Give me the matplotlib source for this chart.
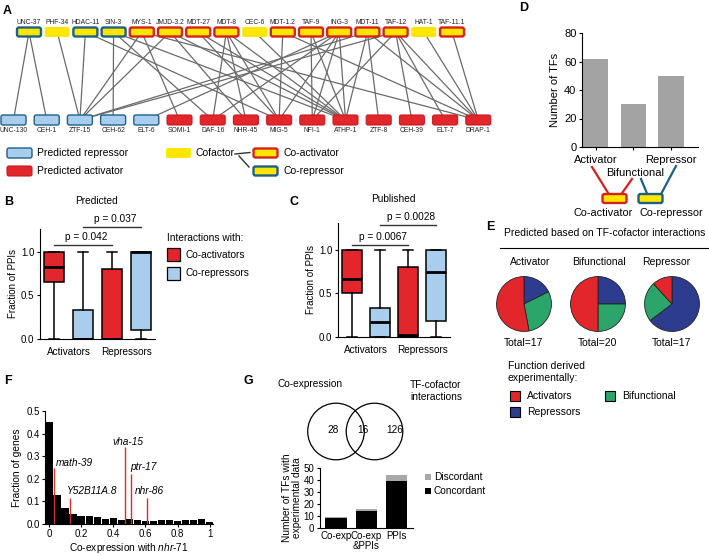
import numpy as np
import matplotlib
import matplotlib.pyplot as plt
from matplotlib.patches import FancyBboxPatch, Rectangle, Circle

matplotlib.rcParams['font.family'] = ['Liberation Sans', 'DejaVu Sans']
matplotlib.rcParams['mathtext.fontset'] = 'custom'
matplotlib.rcParams['mathtext.rm'] = 'Liberation Sans'
matplotlib.rcParams['mathtext.it'] = 'Liberation Sans:italic'
matplotlib.rcParams['axes.linewidth'] = 0.8
matplotlib.rcParams['xtick.major.width'] = 0.8
matplotlib.rcParams['ytick.major.width'] = 0.8
matplotlib.rcParams['xtick.major.size'] = 2.5
matplotlib.rcParams['ytick.major.size'] = 2.5

# ---------------------------------------------------------------- data
cofactors = ['UNC-37', 'PHF-34', 'HDAC-11', 'SIN-3', 'MYS-1', 'JMJD-3.2', 'MDT-27', 'MDT-8',
             'CEC-6', 'MDT-1.2', 'TAF-9', 'ING-3', 'MDT-11', 'TAF-12', 'HAT-1', 'TAF-11.1']
cofactor_kind = ['rep', 'none', 'rep', 'rep', 'act', 'act', 'act', 'act',
                 'none', 'act', 'act', 'act', 'act', 'act', 'none', 'act']
tfs = ['UNC-130', 'CEH-1', 'ZTF-15', 'CEH-62', 'ELT-6', 'SOMI-1', 'DAF-16', 'NHR-45',
       'MIG-5', 'NFI-1', 'ATHP-1', 'ZTF-8', 'CEH-39', 'ELT-7', 'DRAP-1']
tf_kind = ['rep', 'rep', 'rep', 'rep', 'rep', 'act', 'act', 'act',
           'act', 'act', 'act', 'act', 'act', 'act', 'act']
edges = [('UNC-37', 'UNC-130'), ('UNC-37', 'CEH-1'),
         ('PHF-34', 'ZTF-15'),
         ('HDAC-11', 'ZTF-15'), ('HDAC-11', 'MIG-5'),
         ('SIN-3', 'CEH-62'), ('SIN-3', 'ATHP-1'), ('SIN-3', 'DAF-16'),
         ('MYS-1', 'ZTF-15'), ('MYS-1', 'SOMI-1'), ('MYS-1', 'DRAP-1'),
         ('JMJD-3.2', 'ZTF-15'), ('JMJD-3.2', 'NHR-45'), ('JMJD-3.2', 'ATHP-1'),
         ('MDT-27', 'ATHP-1'), ('MDT-27', 'MIG-5'),
         ('MDT-8', 'DAF-16'), ('MDT-8', 'NHR-45'), ('MDT-8', 'MIG-5'), ('MDT-8', 'ATHP-1'),
         ('CEC-6', 'ATHP-1'),
         ('MDT-1.2', 'MIG-5'), ('MDT-1.2', 'DRAP-1'),
         ('TAF-9', 'NFI-1'), ('TAF-9', 'ATHP-1'),
         ('ING-3', 'ELT-6'), ('ING-3', 'DAF-16'), ('ING-3', 'MIG-5'), ('ING-3', 'NFI-1'), ('ING-3', 'ATHP-1'),
         ('MDT-11', 'ZTF-15'), ('MDT-11', 'ATHP-1'), ('MDT-11', 'ZTF-8'), ('MDT-11', 'DRAP-1'),
         ('TAF-12', 'ZTF-15'), ('TAF-12', 'NFI-1'), ('TAF-12', 'CEH-39'), ('TAF-12', 'ELT-7'), ('TAF-12', 'DRAP-1'),
         ('HAT-1', 'DRAP-1'), ('TAF-11.1', 'DRAP-1')]

# B / C box summaries (co-act, co-rep for activators, then for repressors)
box_groups = ['Activators', 'Repressors']
pred_q1 = [0.66, 0.0, 0.0, 0.1]
pred_med = [0.83, 0.0, 0.0, 1.0]
pred_q3 = [1.0, 0.33, 0.8, 1.0]
pred_lo = [0.0, 0.0, 0.0, 0.0]
pred_hi = [1.0, 1.0, 1.0, 1.0]
pub_q1 = [0.5, 0.0, 0.0, 0.18]
pub_med = [0.67, 0.17, 0.02, 0.75]
pub_q3 = [1.0, 0.33, 0.8, 1.0]
pub_lo = [0.0, 0.0, 0.0, 0.0]
pub_hi = [1.0, 1.0, 1.0, 1.0]
pred_pvals = ['p = 0.042', 'p = 0.037']
pub_pvals = ['p = 0.0067', 'p = 0.0028']

# D
d_classes = ['Activator', 'Bifunctional', 'Repressor']
d_counts = [62, 30, 50]

# E (experimental function within each predicted class)
e_classes = ['Activator', 'Bifunctional', 'Repressor']
e_activators = [9, 10, 2]
e_bifunctional = [5, 5, 4]
e_repressors = [3, 5, 11]

# F
coexp_bins = [0.0, 0.05, 0.1, 0.15, 0.2, 0.25, 0.3, 0.35, 0.4, 0.45, 0.5,
              0.55, 0.6, 0.65, 0.7, 0.75, 0.8, 0.85, 0.9, 0.95, 1.0]
coexp_frac = [0.45, 0.13, 0.071, 0.044, 0.034, 0.037, 0.030, 0.024, 0.027, 0.019, 0.022,
              0.019, 0.015, 0.015, 0.019, 0.016, 0.013, 0.016, 0.016, 0.022, 0.009]
gene_names = ['math-39', 'Y52B11A.8', 'vha-15', 'ptr-17', 'nhr-86']
gene_coexp = [0.03, 0.13, 0.474, 0.51, 0.61]
gene_height = [0.25, 0.115, 0.34, 0.22, 0.115]

# G
venn_counts = [28, 16, 126]
g_groups = ['Co-exp', 'Co-exp\n&PPIs', 'PPIs']
g_concordant = [8, 14, 39]
g_discordant = [1, 2, 5]

RED = '#e3262c'
LBLUE = '#a9cdec'
DBLUE = '#1e5f8a'
YELLOW = '#ffe600'
NAVY = '#2e3c8f'
GREEN = '#2ca56a'

W, H = 709, 556
fig = plt.figure(figsize=(W / 100, H / 100), dpi=100)

# overlay in pixel coordinates for network, legends, labels
ov = fig.add_axes([0, 0, 1, 1])
ov.set_xlim(0, W)
ov.set_ylim(H, 0)
ov.axis('off')


def px_axes(x0, y0, x1, y1):
    ax = fig.add_axes([x0 / W, 1 - y1 / H, (x1 - x0) / W, (y1 - y0) / H])
    ax.patch.set_alpha(0)
    return ax


def node(x, y, w, h, face, edge, lw):
    ov.add_patch(FancyBboxPatch((x - w / 2, y - h / 2), w, h,
                                boxstyle='round,pad=0,rounding_size=2',
                                fc=face, ec=edge, lw=lw, zorder=3))


def cofactor_box(x, y, kind):
    if kind == 'act':
        node(x, y, 24, 9, YELLOW, '#d6201f', 1.7)
    elif kind == 'rep':
        node(x, y, 24, 9, YELLOW, DBLUE, 1.7)
    else:
        node(x, y, 25, 10, YELLOW, 'none', 0)


def tf_box(x, y, kind):
    if kind == 'rep':
        node(x, y, 25, 10, LBLUE, DBLUE, 1.0)
    else:
        node(x, y, 25, 10, RED, '#c21d22', 0.8)


# ---------------------------------------------------------------- A
top_y, bot_y = 32, 120
cof_x = {n: 29 + i * 28.2 for i, n in enumerate(cofactors)}
tf_x = {n: 13.5 + i * 33.2 for i, n in enumerate(tfs)}
for c, t in edges:
    ov.plot([cof_x[c], tf_x[t]], [top_y, bot_y], color='#6a6a6a', lw=0.9, zorder=2)
for n, k in zip(cofactors, cofactor_kind):
    cofactor_box(cof_x[n], top_y, k)
    ov.text(cof_x[n], 22, n, ha='center', va='center', fontsize=4.9, color='#222222')
for n, k in zip(tfs, tf_kind):
    tf_box(tf_x[n], bot_y, k)
    ov.text(tf_x[n], 131, n, ha='center', va='center', fontsize=4.9, color='#222222')

# legend of A
tf_box(19.5, 153, 'rep')
ov.text(37, 153, 'Predicted repressor', va='center', fontsize=7.5)
tf_box(19.5, 171, 'act')
ov.text(37, 171, 'Predicted activator', va='center', fontsize=7.5)
cofactor_box(178.5, 153, 'none')
ov.text(195, 153, 'Cofactor', va='center', fontsize=7.5)
ov.plot([235, 250], [154, 152.5], color='#333333', lw=1.0)
ov.plot([239, 249], [156, 167], color='#333333', lw=1.0)
cofactor_box(265.5, 153, 'act')
ov.text(283, 153, 'Co-activator', va='center', fontsize=7.5)
cofactor_box(265.5, 171, 'rep')
ov.text(283, 171, 'Co-repressor', va='center', fontsize=7.5)

# panel letters
for letter, lx, ly in [('A', 3, 11), ('B', 4, 202), ('C', 289, 202), ('D', 519, 8),
                       ('E', 486, 227), ('F', 4, 381), ('G', 244, 381)]:
    ov.text(lx, ly, letter, ha='left', va='center', fontsize=9, fontweight='bold')


# ---------------------------------------------------------------- B / C
def box_panel(ax, q1, med, q3, lo, hi, pvals, pv_y):
    stats = [dict(q1=a, med=b, q3=c, whislo=d, whishi=e)
             for a, b, c, d, e in zip(q1, med, q3, lo, hi)]
    bp = ax.bxp(stats, positions=[1, 2, 3, 4], widths=0.7, patch_artist=True,
                showfliers=False, capwidths=0.35,
                boxprops=dict(lw=1.1, ec='black'),
                medianprops=dict(color='black', lw=2.0),
                whiskerprops=dict(lw=1.1), capprops=dict(lw=1.1))
    for patch, col in zip(bp['boxes'], [RED, LBLUE, RED, LBLUE]):
        patch.set_facecolor(col)
    ax.set_xlim(0.5, 4.5)
    ax.spines['top'].set_visible(False)
    ax.spines['right'].set_visible(False)
    ax.set_yticks([0, 0.5, 1.0])
    ax.set_yticklabels(['0.0', '0.5', '1.0'], fontsize=7)
    ax.set_xticks([1.5, 3.5])
    ax.set_xticklabels(box_groups, fontsize=7.2)
    ax.tick_params(axis='x', length=0, pad=6)
    ax.tick_params(axis='y', pad=1.5)
    ax.set_ylabel('Fraction of PPIs', fontsize=7, labelpad=2)
    for (xa, xb), txt, yy in zip([(1, 3), (2, 4)], pvals, pv_y):
        ax.plot([xa, xb], [yy, yy], color='#333333', lw=1.0, clip_on=False)
        ax.text((xa + xb) / 2 + 0.1, yy + 0.03, txt, ha='center', va='bottom', fontsize=7.3)


ax_b = px_axes(40, 229, 155, 339)
ax_b.set_ylim(0, 1.264)
box_panel(ax_b, pred_q1, pred_med, pred_q3, pred_lo, pred_hi, pred_pvals, [1.08, 1.29])
ov.text(97, 201, 'Predicted', ha='center', va='center', fontsize=7.3)

ax_c = px_axes(338, 223, 450, 337)
ax_c.set_ylim(0, 1.31)
box_panel(ax_c, pub_q1, pub_med, pub_q3, pub_lo, pub_hi, pub_pvals, [1.06, 1.29])
ov.text(393, 199, 'Published', ha='center', va='center', fontsize=7.3)

# legend of B / C
ov.text(167, 238, 'Interactions with:', va='center', fontsize=7.3)
ov.add_patch(Rectangle((167, 248), 13, 13, fc=RED, ec='black', lw=0.9))
ov.text(186, 255, 'Co-activators', va='center', fontsize=7.3)
ov.add_patch(Rectangle((167, 267), 13, 13, fc=LBLUE, ec='black', lw=0.9))
ov.text(186, 273, 'Co-repressors', va='center', fontsize=7.3)

# ---------------------------------------------------------------- D
ax_d = px_axes(582, 33, 698, 147)
ax_d.bar(range(len(d_classes)), d_counts, width=0.67, color='#a3a3a3')
ax_d.set_ylim(0, 80)
ax_d.set_xlim(-0.37, 2.72)
ax_d.set_yticks([0, 20, 40, 60, 80])
ax_d.tick_params(axis='y', labelsize=8, pad=1.5)
ax_d.set_xticks(range(len(d_classes)))
ax_d.set_xticklabels([d_classes[0], '', d_classes[2]], fontsize=8)
ax_d.tick_params(axis='x', pad=3)
ax_d.spines['top'].set_visible(False)
ax_d.spines['right'].set_visible(False)
ax_d.set_ylabel('Number of TFs', fontsize=8, labelpad=3)
ov.text(635, 173, d_classes[1], ha='center', va='center', fontsize=8)

ov.plot([592, 610], [167, 196], color='#d6201f', lw=1.6)
ov.plot([632, 620], [179, 196], color='#d6201f', lw=1.6)
ov.plot([641, 648], [179, 196], color=DBLUE, lw=1.6)
ov.plot([676, 660], [166, 196], color=DBLUE, lw=1.6)
cofactor_box(614.5, 198.5, 'act')
cofactor_box(650.5, 198.5, 'rep')
ov.text(603, 213, 'Co-activator', ha='center', va='center', fontsize=7.8)
ov.text(671, 213, 'Co-repressor', ha='center', va='center', fontsize=7.8)

# ---------------------------------------------------------------- E
ov.text(605, 233, 'Predicted based on TF-cofactor interactions', ha='center', va='center', fontsize=7.5)
ov.plot([500, 708], [248, 248], color='black', lw=0.8)
for name, hx in zip(e_classes, [530, 599, 666]):
    ov.text(hx, 262, name, ha='center', va='center', fontsize=7.5)
for i, cx in enumerate([524, 598, 672]):
    ax_p = px_axes(cx - 28, 276, cx + 28, 332)
    vals = [e_repressors[i], e_bifunctional[i], e_activators[i]]
    ax_p.pie(vals, colors=[NAVY, GREEN, RED], startangle=90, counterclock=False,
             radius=1, wedgeprops=dict(edgecolor='#222222', linewidth=0.6))
    ax_p.set_xlim(-1.02, 1.02)
    ax_p.set_ylim(-1.02, 1.02)
    ov.text(cx, 343, 'Total=%d' % sum(vals), ha='center', va='center', fontsize=7.5)

ov.text(508, 372, 'Function derived\nexperimentally:', va='center', fontsize=7.5, linespacing=1.15)
ov.add_patch(Rectangle((510, 391), 10, 10, fc=RED, ec='black', lw=0.8))
ov.text(527, 396, 'Activators', va='center', fontsize=7.5)
ov.add_patch(Rectangle((510, 407), 10, 10, fc=NAVY, ec='black', lw=0.8))
ov.text(527, 412, 'Repressors', va='center', fontsize=7.5)
ov.add_patch(Rectangle((605, 391), 10, 10, fc=GREEN, ec='black', lw=0.8))
ov.text(622, 396, 'Bifunctional', va='center', fontsize=7.5)

# ---------------------------------------------------------------- F
ax_f = px_axes(45, 411, 213, 524)
ax_f.bar(coexp_bins, coexp_frac, width=0.046, color='black')
ax_f.vlines(gene_coexp, 0, gene_height, color='#c8372d', lw=1.0)
label_pos = [(0.043, 0.27, 'left'), (0.11, 0.146, 'left'), (0.49, 0.363, 'center'),
             (0.505, 0.252, 'left'), (0.535, 0.146, 'left')]
for n, (lx, ly, ha) in zip(gene_names, label_pos):
    ax_f.text(lx, ly, n, fontsize=7.3, style='italic', va='center', ha=ha)
ax_f.set_xlim(-0.025, 1.02)
ax_f.set_ylim(0, 0.5)
ax_f.set_yticks([0, 0.1, 0.2, 0.3, 0.4, 0.5])
ax_f.set_yticklabels(['0.0', '0.1', '0.2', '0.3', '0.4', '0.5'], fontsize=7)
ax_f.set_xticks([0, 0.2, 0.4, 0.6, 0.8, 1.0])
ax_f.set_xticklabels(['0', '0.2', '0.4', '0.6', '0.8', '1'], fontsize=7)
ax_f.tick_params(pad=1.2)
ax_f.spines['top'].set_visible(False)
ax_f.spines['right'].set_visible(False)
ax_f.set_ylabel('Fraction of genes', fontsize=7.3, labelpad=3)
ax_f.set_xlabel(r'Co-expression with $\mathit{nhr}$-$\mathit{71}$', fontsize=7.3, labelpad=1.2)

# ---------------------------------------------------------------- G
ov.text(277, 384, 'Co-expression', va='center', fontsize=7.3)
ov.text(410, 385, 'TF-cofactor', va='center', fontsize=7.3)
ov.text(410, 397, 'interactions', va='center', fontsize=7.3)
ov.add_patch(Circle((336, 431.5), 28.3, fill=False, ec='black', lw=0.9))
ov.add_patch(Circle((374.5, 431.5), 28.3, fill=False, ec='black', lw=0.9))
for v, vx in zip(venn_counts, [333, 363, 395]):
    ov.text(vx, 430, str(v), ha='center', va='center', fontsize=7.3)

ax_g = px_axes(320, 468, 413, 528)
gx = np.arange(len(g_groups))
ax_g.bar(gx, g_concordant, width=0.7, color='black', label='Concordant')
ax_g.bar(gx, g_discordant, width=0.7, bottom=g_concordant, color='#a8a8a8', label='Discordant')
ax_g.set_ylim(0, 50)
ax_g.set_xlim(-0.53, 2.55)
ax_g.set_yticks([0, 10, 20, 30, 40, 50])
ax_g.tick_params(axis='y', labelsize=7, pad=1.5)
ax_g.set_xticks(gx)
ax_g.set_xticklabels(g_groups, fontsize=7, linespacing=1.0, va='top')
ax_g.tick_params(axis='x', length=0, pad=2)
ax_g.spines['top'].set_visible(False)
ax_g.spines['right'].set_visible(False)
ax_g.set_ylabel('Number of TFs with\nexperimental data', fontsize=7.3, labelpad=1, linespacing=1.0)
ov.add_patch(Rectangle((425, 474), 6, 6, fc='#a8a8a8', ec='none'))
ov.text(434, 477, 'Discordant', va='center', fontsize=7.3)
ov.add_patch(Rectangle((425, 488), 6, 6, fc='black', ec='none'))
ov.text(434, 491, 'Concordant', va='center', fontsize=7.3)

plt.savefig('out.png', dpi=100)
plt.close()
